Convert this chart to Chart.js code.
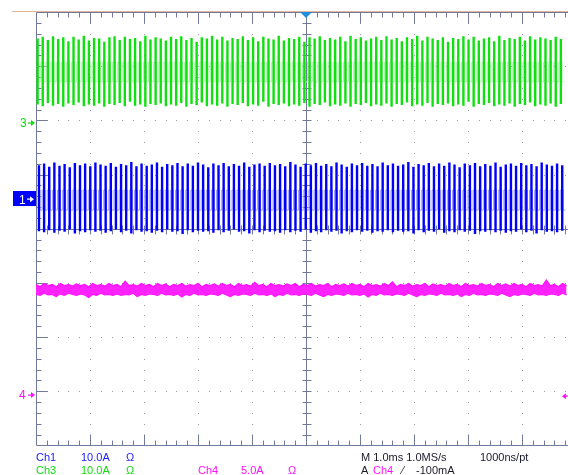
<!DOCTYPE html>
<html>
<head>
<meta charset="utf-8">
<script src="https://cdn.jsdelivr.net/npm/chart.js@4.4.0/dist/chart.umd.min.js"></script>
<style>
  html, body { margin: 0; padding: 0; background: #ffffff; }
  #wrap { position: relative; width: 568px; height: 475px; overflow: hidden; background: #ffffff; }
  #scope { position: absolute; left: 0; top: 0; }
  .t { position: absolute; font: 11px "Liberation Sans", Arial, sans-serif; white-space: pre; line-height: 12px; }
  .c1 { color: #1a1aff; }
  .c3 { color: #10dd10; }
  .c4 { color: #ff10ff; }
  .k  { color: #1a1a2a; }
</style>
</head>
<body>
<div id="wrap">
  <canvas id="scope" width="568" height="475"></canvas>
  <div class="t c1" style="left:36px;top:451px">Ch1</div>
  <div class="t c1" style="left:81px;top:451px">10.0A</div>
  <div class="t c1" style="left:126px;top:451px">Ω</div>
  <div class="t c3" style="left:36px;top:464px">Ch3</div>
  <div class="t c3" style="left:81px;top:464px">10.0A</div>
  <div class="t c3" style="left:126px;top:464px">Ω</div>
  <div class="t c4" style="left:198px;top:464px">Ch4</div>
  <div class="t c4" style="left:241px;top:464px">5.0A</div>
  <div class="t c4" style="left:288px;top:464px">Ω</div>
  <div class="t k"  style="left:361px;top:451px">M 1.0ms 1.0MS/s</div>
  <div class="t k"  style="left:480px;top:451px">1000ns/pt</div>
  <div class="t k"  style="left:361px;top:464px">A</div>
  <div class="t c4" style="left:373px;top:464px">Ch4</div>
  <div class="t k"  style="left:402px;top:464px">⁄</div>
  <div class="t k"  style="left:416px;top:464px">-100mA</div>
</div>
<script>
// ---- acquisition settings ----
const ampsPerDiv  = { ch1: 10, ch3: 10, ch4: 5 };          // A/div
const groundPos   = { ch1: 0.544, ch3: 1.952, ch4: -3.07 }; // divisions from centre
const triggerLevel = -0.1;                                  // A on Ch4
const cyclePeriod = 0.095;                                  // ms per switching cycle
const ch3Phase = 0.03;                                      // ms after left edge
const ch1Phase = 0.055;
const ch4EnvelopeStep = 0.075;                              // ms between Ch4 envelope samples

// ---- Ch3 (green) peak / trough per cycle, A ----
const ch3High = [15.6,15.9,15.3,16.0,15.5,15.8,15.1,15.9,15.4,16.1,
                 15.2,15.7,15.6,15.0,15.8,16.0,15.3,15.9,15.5,15.7,
                 15.1,16.1,15.4,15.8,15.6,15.2,15.9,15.5,16.0,15.3,
                 15.7,15.0,15.8,15.6,16.1,15.4,15.9,15.2,15.7,15.5,
                 16.0,15.3,15.8,15.1,15.9,15.6,15.4,16.1,15.2,15.7,
                 15.5,15.9,15.0,15.8,15.6,16.0,15.3,15.7,15.4,15.9,
                 15.1,16.1,15.5,15.8,15.2,15.6,15.9,15.3,16.0,15.4,
                 15.7,15.1,15.8,15.5,16.1,15.2,15.9,15.6,15.3,15.8,
                 15.0,15.7,15.5,16.0,15.4,15.9,15.2,15.6,15.8,15.1,
                 16.1,15.3,15.7,15.5,15.9,15.2,16.0,15.4,15.8,15.6,
                 15.3,15.9,15.5];
const ch3Low  = [3.4,3.1,3.7,3.2,3.5,3.0,3.6,3.3,3.8,3.1,
                 3.4,3.2,3.6,3.0,3.5,3.3,3.7,3.1,3.9,3.2,
                 3.4,3.0,3.5,3.3,3.6,3.1,3.4,3.2,3.7,3.0,
                 3.5,3.3,3.8,3.1,3.4,3.2,3.6,3.0,3.5,3.3,
                 3.7,3.1,3.4,3.2,3.9,3.0,3.5,3.3,3.6,3.1,
                 3.4,3.2,3.7,3.0,3.5,3.3,3.8,3.1,3.4,3.2,
                 3.6,3.0,3.5,3.3,3.7,3.1,3.4,3.2,3.6,3.0,
                 3.5,3.3,3.8,3.1,3.4,3.2,3.7,3.0,3.5,3.3,
                 3.6,3.1,3.4,3.2,3.9,3.0,3.5,3.3,3.7,3.1,
                 3.4,3.2,3.6,3.0,3.5,3.3,3.8,3.1,3.4,3.2,
                 3.6,3.0,3.5];
const ch3Plateau = [11.2, 7.6];

// ---- Ch1 (blue) peak / trough per cycle, A ----
const ch1High = [6.3,6.6,6.0,6.8,6.2,6.5,5.9,6.7,6.3,6.6,
                 6.1,6.8,6.4,6.2,6.7,6.0,6.5,6.3,6.9,6.1,
                 6.6,6.2,6.4,6.8,6.0,6.5,6.3,6.7,6.1,6.6,
                 6.2,6.8,6.4,5.9,6.6,6.3,6.7,6.1,6.5,6.2,
                 6.8,6.0,6.4,6.6,6.2,6.7,6.3,6.5,6.1,6.9,
                 6.4,6.0,6.6,6.3,6.7,6.2,6.5,6.1,6.8,6.4,
                 6.0,6.6,6.3,6.7,6.2,6.5,6.1,6.8,6.3,6.6,
                 6.2,6.4,6.9,6.0,6.5,6.3,6.7,6.1,6.6,6.2,
                 6.8,6.4,5.9,6.6,6.3,6.7,6.1,6.5,6.2,6.8,
                 6.0,6.4,6.6,6.2,6.7,6.3,6.5,6.1,6.8,6.4,
                 6.2,6.6,6.3];
const ch1Low  = [-5.9,-6.1,-5.7,-6.2,-5.8,-6.0,-5.6,-6.3,-5.9,-6.1,
                 -5.7,-6.0,-5.8,-6.2,-5.9,-5.6,-6.1,-5.8,-6.3,-5.7,
                 -6.0,-5.9,-6.2,-5.8,-6.1,-5.6,-6.0,-5.9,-6.4,-5.7,
                 -6.1,-5.8,-6.0,-5.9,-6.2,-5.7,-6.1,-5.8,-5.6,-6.0,
                 -5.9,-6.3,-5.7,-6.1,-5.8,-6.0,-5.9,-6.2,-5.7,-6.1,
                 -5.8,-6.0,-5.6,-6.2,-5.9,-6.1,-5.7,-6.0,-5.8,-6.3,
                 -5.9,-6.1,-5.7,-6.0,-5.8,-6.2,-5.9,-6.0,-5.7,-6.1,
                 -5.8,-6.0,-5.9,-6.3,-5.7,-6.1,-5.8,-6.0,-5.6,-6.2,
                 -5.9,-6.1,-5.7,-6.0,-5.8,-6.4,-5.9,-6.0,-5.7,-6.1,
                 -5.8,-6.2,-5.9,-6.0,-5.6,-6.1,-5.8,-6.3,-5.7,-6.0,
                 -5.9,-6.1,-5.8];
const ch1Plateau = [1.7, -2.0];

// ---- Ch4 (magenta) upper / lower envelope, A ----
const ch4Upper = [10.2,10.0,10.3,10.1,10.2,10.0,10.3,10.1,10.2,10.05,
                  10.25,10.1,10.2,10.0,10.3,10.1,10.2,10.05,10.3,10.1,
                  10.2,10.0,10.5,10.1,10.2,10.05,10.3,10.1,10.2,10.0,
                  10.3,10.1,10.25,10.0,10.2,10.1,10.3,10.05,10.2,10.1,
                  10.3,10.0,10.2,10.1,10.25,10.05,10.3,10.1,10.2,10.0,
                  10.3,10.1,10.2,10.05,10.4,10.1,10.2,10.0,10.3,10.1,
                  10.2,10.05,10.25,10.1,10.3,10.0,10.2,10.1,10.3,10.05,
                  10.2,10.1,10.3,10.0,10.2,10.1,10.25,10.05,10.3,10.1,
                  10.2,10.0,10.3,10.1,10.2,10.05,10.3,10.1,10.45,10.0,
                  10.2,10.1,10.3,10.05,10.2,10.1,10.3,10.0,10.25,10.1,
                  10.2,10.05,10.3,10.1,10.2,10.0,10.3,10.1,10.2,10.05,
                  10.3,10.1,10.2,10.0,10.3,10.1,10.25,10.05,10.3,10.1,
                  10.2,10.0,10.3,10.1,10.2,10.05,10.6,10.1,10.2,10.0,
                  10.3,10.1];
const ch4Lower = [9.3,9.2,9.4,9.25,9.3,9.1,9.35,9.2,9.4,9.3,
                  9.2,9.35,9.25,9.0,9.3,9.2,9.4,9.25,9.3,9.2,
                  9.35,9.2,9.3,9.25,9.4,9.1,9.3,9.2,9.35,9.3,
                  9.2,9.4,9.25,9.3,9.2,9.35,9.05,9.3,9.2,9.4,
                  9.25,9.3,9.2,9.35,9.3,9.2,9.4,9.25,9.1,9.3,
                  9.2,9.35,9.3,9.2,9.4,9.25,9.3,9.2,9.35,9.1,
                  9.3,9.2,9.4,9.25,9.3,9.2,9.35,9.3,9.2,9.4,
                  9.25,9.1,9.3,9.2,9.35,9.3,9.2,9.4,9.25,9.3,
                  9.2,9.35,9.05,9.3,9.2,9.4,9.25,9.3,9.2,9.35,
                  9.3,9.2,9.4,9.25,9.1,9.3,9.2,9.35,9.3,9.2,
                  9.4,9.25,9.3,9.2,9.35,9.1,9.3,9.2,9.4,9.25,
                  9.3,9.2,9.35,9.3,9.2,9.4,9.25,9.1,9.3,9.2,
                  9.35,9.3,9.2,9.4,9.25,9.3,9.2,9.35,9.3,9.2,
                  9.4,9.25];

const timeMin = -5, timeMax = 4.852;   // ms across the visible screen

// vertical switching edges: one full-swing segment per cycle
function edgeTrace(high, low, phase) {
  const pts = [];
  const n = Math.min(high.length, low.length);
  for (let i = 0; i < n; i++) {
    const t = timeMin + phase + i * cyclePeriod;
    pts.push({ x: t, y: high[i] }, { x: t, y: low[i] }, { x: t, y: null });
  }
  return pts;
}
// plateau square wave between the edges
function plateauTrace(levels, phase, n) {
  const pts = [];
  for (let i = 0; i < n; i++) {
    const t = timeMin + phase + i * cyclePeriod;
    pts.push({ x: t + 0.2 * cyclePeriod, y: levels[0] }, { x: t + 0.62 * cyclePeriod, y: levels[1] });
  }
  return pts;
}
function envelopeTrace(samples, step) {
  return samples.map((v, i) => ({ x: timeMin + i * step, y: v }));
}
function chAxis(ch) {
  return { type: 'linear', display: false,
           min: (-4 - groundPos[ch]) * ampsPerDiv[ch],
           max: (4 - groundPos[ch]) * ampsPerDiv[ch] };
}

const GRID = '#727a9c';
const DOT = '#9a9ab4';

const scopeGrid = {
  id: 'scopeGrid',
  beforeDatasetsDraw(chart) {
    const { ctx, chartArea: a, scales: { x, y } } = chart;
    ctx.save();
    ctx.fillStyle = DOT;
    for (let gx = -4; gx <= 4; gx++) {
      if (gx === 0) continue;
      const px = Math.round(x.getPixelForValue(gx));
      for (let k = -19; k <= 19; k++) ctx.fillRect(px, Math.round(y.getPixelForValue(k / 5)), 1, 1);
    }
    for (let gy = -3; gy <= 3; gy++) {
      if (gy === 0) continue;
      const py = Math.round(y.getPixelForValue(gy));
      for (let k = -24; k <= 24; k++) ctx.fillRect(Math.round(x.getPixelForValue(k / 5)), py, 1, 1);
    }
    ctx.strokeStyle = GRID;
    ctx.lineWidth = 1;
    const cx = Math.round(x.getPixelForValue(0)) + 0.5;
    const cy = Math.round(y.getPixelForValue(0)) + 0.5;
    const L = Math.round(a.left) + 0.5, T = Math.round(a.top) + 0.5, B = Math.round(a.bottom) - 0.5;
    ctx.beginPath();
    // centre cross with minor ticks
    ctx.moveTo(cx, T); ctx.lineTo(cx, B);
    ctx.moveTo(L, cy); ctx.lineTo(a.right, cy);
    for (let k = -19; k <= 19; k++) {
      const py = Math.round(y.getPixelForValue(k / 5)) + 0.5;
      ctx.moveTo(cx - 4, py); ctx.lineTo(cx + 5, py);
      const len = (k % 5 === 0) ? 11 : 5;
      ctx.moveTo(L, py); ctx.lineTo(L + len, py);
    }
    for (let k = -24; k <= 24; k++) {
      const px = Math.round(x.getPixelForValue(k / 5)) + 0.5;
      ctx.moveTo(px, cy - 4); ctx.lineTo(px, cy + 5);
      const len = (k % 5 === 0) ? 11 : 5;
      ctx.moveTo(px, T); ctx.lineTo(px, T + len);
      ctx.moveTo(px, B); ctx.lineTo(px, B - len);
    }
    // frame
    ctx.moveTo(L, T); ctx.lineTo(L, B);
    ctx.moveTo(L, T); ctx.lineTo(a.right, T);
    ctx.moveTo(L, B); ctx.lineTo(a.right, B);
    ctx.stroke();
    ctx.restore();
  },
  afterDraw(chart) {
    const { ctx, chartArea: a, scales } = chart;
    const { x } = scales;
    ctx.save();
    // record bar
    ctx.fillStyle = '#e2b496';
    ctx.fillRect(12, Math.round(a.top) - 1, a.right - 12, 1);
    // trigger position
    const tx = x.getPixelForValue(0);
    ctx.fillStyle = '#1e8ee0';
    ctx.beginPath();
    ctx.moveTo(tx - 6, a.top); ctx.lineTo(tx + 6, a.top); ctx.lineTo(tx, a.top + 6); ctx.closePath();
    ctx.fill();

    const arrow = (x0, y0, col) => {
      ctx.fillStyle = col;
      ctx.fillRect(x0, Math.round(y0) - 0.5, 5, 1.2);
      ctx.beginPath();
      ctx.moveTo(x0 + 3, y0 - 3); ctx.lineTo(x0 + 7, y0); ctx.lineTo(x0 + 3, y0 + 3); ctx.closePath();
      ctx.fill();
    };
    ctx.font = '12px "Liberation Sans", Arial, sans-serif';
    ctx.textBaseline = 'middle';
    // ground markers
    const y3 = scales.c3.getPixelForValue(0);
    ctx.fillStyle = '#10dd10'; ctx.fillText('3', 20, y3 + 1);
    arrow(28, y3, '#10dd10');
    const y1 = scales.c1.getPixelForValue(0);
    ctx.fillStyle = '#0000ff'; ctx.fillRect(13, Math.round(y1) - 8, 23, 15);
    ctx.fillStyle = '#ffffff'; ctx.fillText('1', 19, y1 + 1);
    arrow(27, y1, '#ffffff');
    const y4 = scales.c4.getPixelForValue(0);
    ctx.fillStyle = '#ff10ff'; ctx.fillText('4', 19, y4 + 1);
    arrow(28, y4, '#ff10ff');
    // trigger level
    const yt = scales.c4.getPixelForValue(triggerLevel);
    ctx.fillStyle = '#ff10ff';
    ctx.beginPath();
    ctx.moveTo(a.right - 6, yt); ctx.lineTo(a.right - 2, yt - 3); ctx.lineTo(a.right - 2, yt + 3); ctx.closePath();
    ctx.fill();
    ctx.fillRect(a.right - 3, Math.round(yt) - 0.5, 3, 1.2);
    ctx.restore();
  }
};

const nCycles3 = Math.min(ch3High.length, ch3Low.length);
const nCycles1 = Math.min(ch1High.length, ch1Low.length);

new Chart(document.getElementById('scope'), {
  type: 'line',
  data: {
    datasets: [
      { data: edgeTrace(ch3High, ch3Low, ch3Phase), yAxisID: 'c3', borderColor: '#10e010', borderWidth: 2.4, spanGaps: false },
      { data: edgeTrace(ch1High, ch1Low, ch1Phase), yAxisID: 'c1', borderColor: '#0000ff', borderWidth: 2.4, spanGaps: false },
      { data: envelopeTrace(ch4Upper, ch4EnvelopeStep), yAxisID: 'c4', borderColor: '#ff10ff', backgroundColor: '#ff22ff', borderWidth: 1.3, fill: '+1' },
      { data: envelopeTrace(ch4Lower, ch4EnvelopeStep), yAxisID: 'c4', borderColor: '#ff10ff', borderWidth: 1.3, fill: false },
      { data: plateauTrace(ch3Plateau, ch3Phase, nCycles3), yAxisID: 'c3', borderColor: '#a8f4a8', borderWidth: 1, stepped: 'after' },
      { data: plateauTrace(ch1Plateau, ch1Phase, nCycles1), yAxisID: 'c1', borderColor: '#a0a0ff', borderWidth: 1, stepped: 'after' }
    ]
  },
  options: {
    responsive: false,
    animation: false,
    events: [],
    layout: { padding: { left: 36, right: 0, top: 12, bottom: 29.5 } },
    elements: { point: { radius: 0 }, line: { tension: 0 } },
    plugins: { legend: { display: false }, tooltip: { enabled: false } },
    scales: {
      x: { type: 'linear', display: false, min: timeMin, max: timeMax },
      y: { type: 'linear', display: false, min: -4, max: 4 },
      c1: chAxis('ch1'),
      c3: chAxis('ch3'),
      c4: chAxis('ch4')
    }
  },
  plugins: [scopeGrid]
});
</script>
</body>
</html>
